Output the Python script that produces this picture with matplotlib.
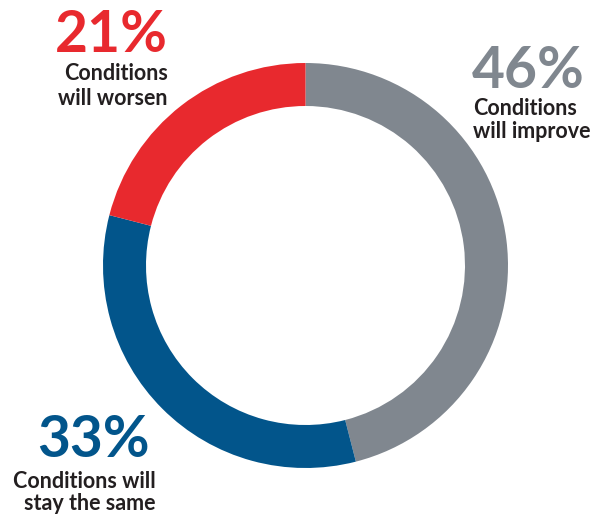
import matplotlib
matplotlib.use("Agg")
import matplotlib.pyplot as plt

categories = ["Conditions\nwill improve", "Conditions will\nstay the same", "Conditions\nwill worsen"]
values = [46, 33, 21]
colors = ["#80878F", "#02558B", "#E8292E"]

W, H = 598, 516
fig = plt.figure(figsize=(W / 100, H / 100), dpi=100)
ax = fig.add_axes([0, 0, 1, 1])
ax.set_xlim(0, W)
ax.set_ylim(0, H)
ax.set_aspect("equal")
ax.axis("off")

cx, cy, r = 305.5, H - 265.5, 202.5
ax.pie(values, colors=colors, startangle=90, counterclock=False,
       center=(cx, cy), radius=r,
       wedgeprops=dict(width=43, edgecolor="none", linewidth=0))
ax.set_xlim(0, W)
ax.set_ylim(0, H)

font = "Lato"
dark = "#231F20"
big = 41
small = 15.5

# 21% (top left, right-aligned)
ax.text(168, H - 52, f"{values[2]}%", fontsize=big, fontweight="bold", color=colors[2],
        ha="right", va="baseline", family=font)
for i, line in enumerate(categories[2].split("\n")):
    ax.text(168, H - 80 - 25 * i, line, fontsize=small, fontweight="bold", color=dark,
            ha="right", va="baseline", family=font)

# 46% (top right, left-aligned)
ax.text(472, H - 88, f"{values[0]}%", fontsize=big, fontweight="bold", color=colors[0],
        ha="left", va="baseline", family=font)
for i, line in enumerate(categories[0].split("\n")):
    ax.text(473, H - 115 - 23 * i, line, fontsize=small, fontweight="bold", color=dark,
            ha="left", va="baseline", family=font)

# 33% (bottom left, right-aligned)
ax.text(150, H - 457, f"{values[1]}%", fontsize=big, fontweight="bold", color=colors[1],
        ha="right", va="baseline", family=font)
for i, line in enumerate(categories[1].split("\n")):
    ax.text(156, H - 488 - 22 * i, line, fontsize=small, fontweight="bold", color=dark,
            ha="right", va="baseline", family=font)

fig.savefig("out.png", dpi=100)
